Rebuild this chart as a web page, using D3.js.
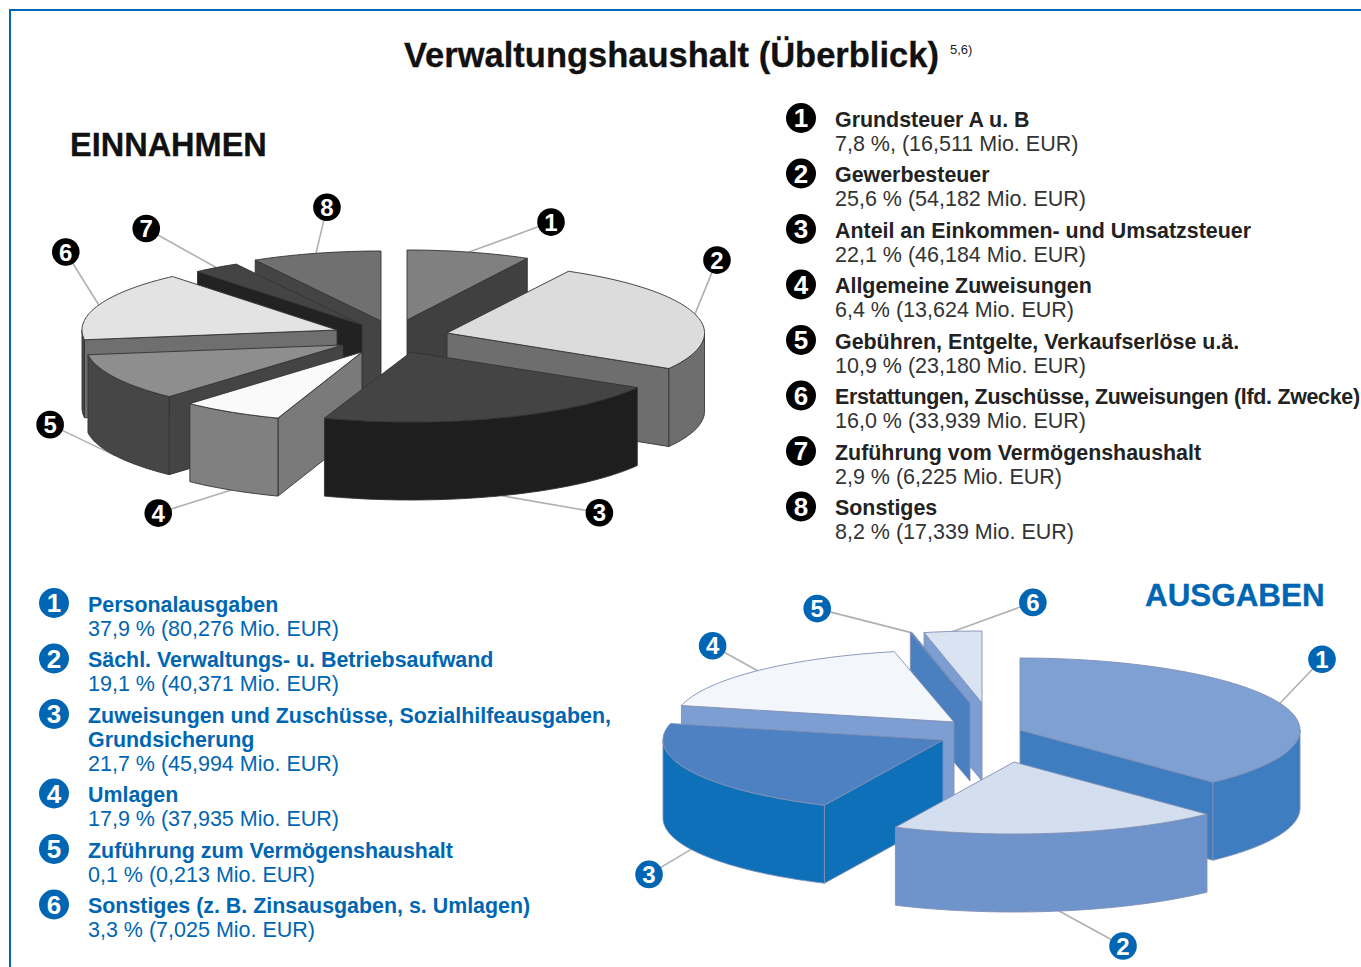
<!DOCTYPE html>
<html><head><meta charset="utf-8">
<script src="https://cdn.jsdelivr.net/npm/d3@7"></script>
<style>html,body{margin:0;padding:0;background:#fff;overflow:hidden}svg{display:block}
text{font-family:"Liberation Sans",Arial,sans-serif}</style></head>
<body><svg id="c" width="1361" height="967"></svg>
<script>
// ---- data ----
const incomeNames = ["Grundsteuer A u. B","Gewerbesteuer","Anteil an Einkommen- und Umsatzsteuer","Allgemeine Zuweisungen","Gebühren, Entgelte, Verkaufserlöse u.ä.","Erstattungen, Zuschüsse, Zuweisungen (lfd. Zwecke)","Zuführung vom Vermögenshaushalt","Sonstiges"];
const incomePct = ["7,8 %,","25,6 %","22,1 %","6,4 %","10,9 %","16,0 %","2,9 %","8,2 %"];
const incomeMio = [16.511,54.182,46.184,13.624,23.180,33.939,6.225,17.339];
const spendNames = ["Personalausgaben","Sächl. Verwaltungs- u. Betriebsaufwand","Zuweisungen und Zuschüsse, Sozialhilfeausgaben,\nGrundsicherung","Umlagen","Zuführung zum Vermögenshaushalt","Sonstiges (z. B. Zinsausgaben, s. Umlagen)"];
const spendPct = ["37,9 %","19,1 %","21,7 %","17,9 %","0,1 %","3,3 %"];
const spendMio = [80.276,40.371,45.994,37.935,0.213,7.025];

// ---- layout & style ----
const incomeExplode = [[14,-15],[54,-2],[18,17],[-31,17],[-50,10],[-56,-5],[-31,-10],[-12,-14]];
const incomeScale = [1,1.01,1.03,1,1.01,1,1,1];
const incomeOrder = [7,0,6,5,4,1,3,2];
const incomeTop  = ["#808080","#dcdcdc","#444444","#fafafa","#8e8e8e","#e3e3e3","#444444","#707070"];
const incomeFace = ["#404040","#6e6e6e","#1e1e1e","#7a7a7a","#444444","#6f6f6f","#222222","#444444"];
const incomeWall = ["#404040","#6e6e6e","#1e1e1e","#808080","#464646","#484848","#222222","#444444"];
const incomeBadge = [[82,-30],[22,-54],[98,17],[-73,23],[-65,-31],[-33,-53],[-70,-39],[11,-46]];

const spendExplode = [[40,8],[34,40],[-37,18],[-26,0],[-10,-19],[2,-19]];
const spendScale = [1,1,1,1,1,1];
const spendOrder = [5,4,3,0,2,1];
const spendTop  = ["#7fa0d2","#d3deef","#4e81c2","#f3f6fb","#4e81c2","#dae3f2"];
const spendFace = ["#3f7dc1","#6f94cc","#0d70b8","#7d9ed3","#4a80c0","#7d9ed3"];
const spendWall = ["#3f7dc1","#6f94cc","#0d70b8","#7d9ed3","#4a80c0","#7d9ed3"];
const spendBadge = [[42,-44],[64,35],[-42,25],[-45,-25],[-94,-24],[80,-29]];

const svg = d3.select("#c");
const BLUE = "#0066b3";

function drawPie(o){
  const angleOf = d3.pie().sort(null)(o.values);
  const px = (s,t,h=0)=>[o.cx+o.explode[s][0]+o.scale[s]*o.rx*Math.sin(t), o.cy+o.explode[s][1]-o.ry*Math.cos(t)+h];
  const apex = (s,h=0)=>[o.cx+o.explode[s][0], o.cy+o.explode[s][1]+h];
  const line = d3.line();
  const sweep = (a,b)=>{const n=Math.max(2,Math.ceil((b-a)/0.02));return d3.range(n+1).map(i=>a+(b-a)*i/n);};

  // leader lines and badges
  const lead = svg.append("g");
  angleOf.forEach((d,i)=>{
    const mid=(d.startAngle+d.endAngle)/2;
    const front=Math.cos(mid)<0;
    const p=px(i,mid,front?o.h:0);
    const q=[p[0]+o.badge[i][0],p[1]+o.badge[i][1]];
    lead.append("line").attr("x1",p[0]).attr("y1",p[1]).attr("x2",q[0]).attr("y2",q[1])
      .attr("stroke","#b0b0b0").attr("stroke-width",1.6);
  });
  const pie = svg.append("g").style("filter","blur(0.4px)");
  o.order.forEach(i=>{
    const {startAngle:a,endAngle:b}=angleOf[i];
    const g=pie.append("g").attr("stroke",o.edge).attr("stroke-width",0.9).attr("stroke-linejoin","round");
    const face=t=>g.append("path").attr("fill",o.face[i])
      .attr("d",line([apex(i),px(i,t),px(i,t,o.h),apex(i,o.h)])+"Z");
    if(Math.sin(a)<0) face(a);
    if(Math.sin(b)>0) face(b);
    const w0=Math.max(a,Math.PI/2), w1=Math.min(b,Math.PI*1.5);
    if(w1>w0){
      const ts=sweep(w0,w1);
      g.append("path").attr("fill",o.wall[i])
       .attr("d",line(ts.map(t=>px(i,t)).concat(ts.slice().reverse().map(t=>px(i,t,o.h))))+"Z");
    }
    g.append("path").attr("fill",o.top[i])
     .attr("d",line([apex(i)].concat(sweep(a,b).map(t=>px(i,t))))+"Z");
  });
  angleOf.forEach((d,i)=>{
    const mid=(d.startAngle+d.endAngle)/2;
    const p=px(i,mid,Math.cos(mid)<0?o.h:0);
    badge(p[0]+o.badge[i][0],p[1]+o.badge[i][1],i+1,13.8,o.color,24);
  });
}
function badge(x,y,n,r,color,fs){
  svg.append("circle").attr("cx",x).attr("cy",y).attr("r",r).attr("fill",color);
  svg.append("text").attr("x",x).attr("y",y+fs*0.36).attr("text-anchor","middle")
     .attr("font-size",fs).attr("font-weight",700).attr("fill","#fff").text(n);
}
function legend(o){
  let y=o.y;
  o.names.forEach((nm,i)=>{
    badge(o.bx,y-8.6,i+1,15,o.badgeColor,26);
    nm.split("\n").forEach((t,k)=>{
      const el=svg.append("text").attr("x",o.tx).attr("y",y+k*24).attr("font-size",o.fs).attr("font-weight",700)
         .attr("fill",o.nameColor).text(t);
      const room=1360-o.tx, w=el.node().getComputedTextLength();
      if(w>room) el.attr("textLength",room).attr("lengthAdjust","spacing");
      if(k>0) y+=24;
    });
    svg.append("text").attr("x",o.tx).attr("y",y+24).attr("font-size",o.vfs).attr("fill",o.valueColor)
       .text(o.pct[i]+" ("+d3.format(".3f")(o.mio[i]).replace(".",",")+" Mio. EUR)");
    y+=o.step;
  });
}

// frame
svg.append("path").attr("d","M1361,10H10V967").attr("fill","none").attr("stroke",BLUE).attr("stroke-width",2);
// titles
svg.append("text").attr("x",404).attr("y",67).attr("font-size",34.5).attr("font-weight",700).attr("fill","#111").attr("stroke","#111").attr("stroke-width",0.3).text("Verwaltungshaushalt (Überblick)");
svg.append("text").attr("x",950).attr("y",54).attr("font-size",13).attr("fill","#222").text("5,6)");
svg.append("text").attr("x",70).attr("y",156).attr("font-size",32.5).attr("font-weight",700).attr("fill","#111").attr("stroke","#111").attr("stroke-width",0.3).text("EINNAHMEN");
svg.append("text").attr("x",1145).attr("y",606).attr("font-size",31.4).attr("font-weight",700).attr("fill",BLUE).attr("stroke",BLUE).attr("stroke-width",0.3).text("AUSGABEN");

drawPie({values:incomeMio,cx:393,cy:335,rx:255,ry:70,h:78,explode:incomeExplode,scale:incomeScale,order:incomeOrder,
  top:incomeTop,face:incomeFace,wall:incomeWall,badge:incomeBadge,edge:"#333",color:"#000"});
drawPie({values:spendMio,cx:980,cy:722,rx:280,ry:72,h:78,explode:spendExplode,scale:spendScale,order:spendOrder,
  top:spendTop,face:spendFace,wall:spendWall,badge:spendBadge,edge:"#8090b4",color:BLUE});

legend({names:incomeNames,pct:incomePct,mio:incomeMio,y:126.6,step:55.5,bx:801,tx:835,fs:21.4,vfs:21.5,
  badgeColor:"#000",nameColor:"#222",valueColor:"#333"});
legend({names:spendNames,pct:spendPct,mio:spendMio,y:611.6,step:55.5,bx:54,tx:88,fs:21.4,vfs:21.5,
  badgeColor:BLUE,nameColor:BLUE,valueColor:BLUE});
</script></body></html>
